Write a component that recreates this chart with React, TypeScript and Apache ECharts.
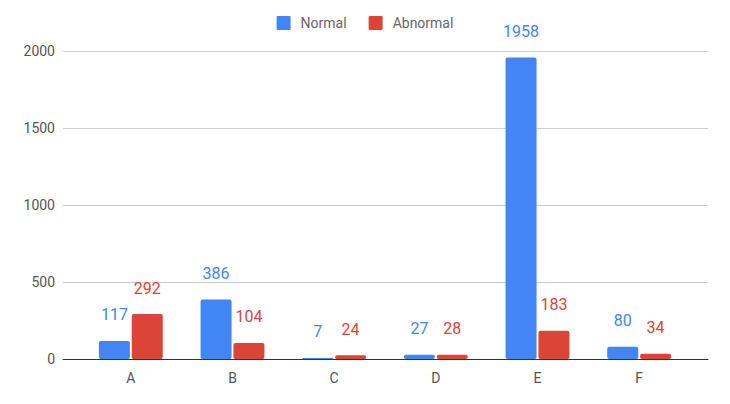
import React, { useEffect, useRef } from "react";
import * as echarts from "echarts";

const categories = ["A", "B", "C", "D", "E", "F"];
const normalValues = [117, 386, 7, 27, 1958, 80];
const abnormalValues = [292, 104, 24, 28, 183, 34];
const seriesNames = ["Normal", "Abnormal"];

export default function App() {
  const ref = useRef<HTMLDivElement>(null);
  useEffect(() => {
    const chart = echarts.init(ref.current!, null, { renderer: "svg" });
    const font = "Roboto, 'Noto Sans', sans-serif";
    const makeLabel = (color: string) => ({
      show: true,
      position: "top",
      distance: 18,
      color,
      fontSize: 16,
      fontFamily: font,
    });
    chart.setOption({
      animation: false,
      textStyle: { fontFamily: font },
      legend: {
        top: 11,
        left: "center",
        itemWidth: 14,
        itemHeight: 14,
        itemGap: 22,
        icon: "path://M1,0 L13,0 Q14,0 14,1 L14,13 Q14,14 13,14 L1,14 Q0,14 0,13 L0,1 Q0,0 1,0 Z",
        textStyle: { fontSize: 14, color: "#666", fontFamily: font, padding: [0, 0, 0, 5] },
        data: seriesNames,
      },
      grid: [
        { left: 63, right: 22, top: 51, bottom: 45 },
        { left: 80, right: 40, top: 51, bottom: 45 },
      ],
      xAxis: [
        {
          gridIndex: 0,
          type: "value",
          min: 0,
          max: 1,
          axisLine: { show: true, lineStyle: { color: "#333", width: 1 } },
          axisTick: { show: false },
          axisLabel: { show: false },
          splitLine: { show: false },
        },
        {
          gridIndex: 1,
          type: "category",
          data: categories,
          axisLine: { show: false },
          axisTick: { show: false },
          axisLabel: { color: "#555", fontSize: 14, margin: 12, fontFamily: font },
        },
      ],
      yAxis: [
        {
          gridIndex: 0,
          type: "value",
          min: 0,
          max: 2000,
          interval: 500,
          axisLine: { show: false },
          axisTick: { show: false },
          splitLine: { lineStyle: { color: "#cccccc" } },
          axisLabel: {
            color: "#555",
            fontSize: 14,
            margin: 8,
            fontFamily: font,
            formatter: (v: number) => String(v),
          },
        },
        {
          gridIndex: 1,
          type: "value",
          min: 0,
          max: 2000,
          interval: 500,
          show: false,
          splitLine: { show: false },
        },
      ],
      series: [
        {
          name: seriesNames[0],
          type: "bar",
          xAxisIndex: 1,
          yAxisIndex: 1,
          data: normalValues,
          barWidth: 31,
          barGap: "6%",
          itemStyle: { color: "#4285F4", borderRadius: 2 },
          label: makeLabel("#4285F4"),
        },
        {
          name: seriesNames[1],
          type: "bar",
          xAxisIndex: 1,
          yAxisIndex: 1,
          data: abnormalValues,
          barWidth: 31,
          itemStyle: { color: "#DB4437", borderRadius: 2 },
          label: makeLabel("#DB4437"),
        },
      ],
    });
    return () => chart.dispose();
  }, []);
  return <div ref={ref} style={{ width: 730, height: 404, position: "absolute", left: 0, top: 0 }} />;
}
